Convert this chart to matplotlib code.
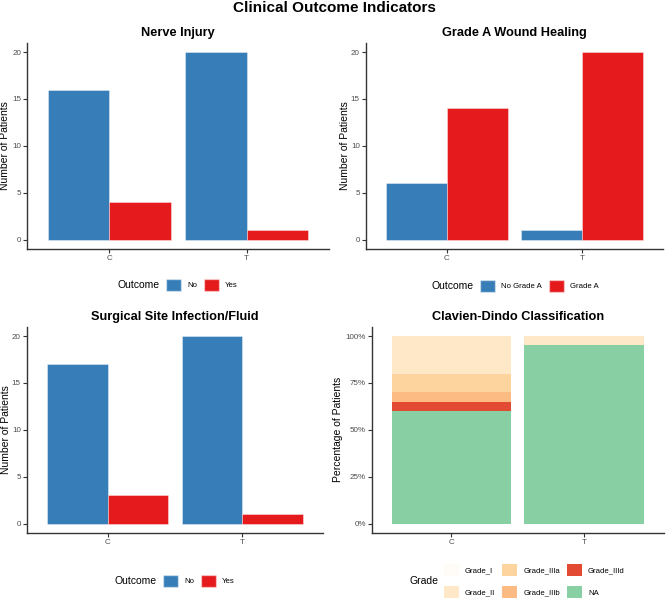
import matplotlib
matplotlib.use("Agg")
import matplotlib.pyplot as plt
from matplotlib.patches import Patch
import numpy as np

plt.rcParams['font.family'] = ['Liberation Sans', 'DejaVu Sans']

# ---------------- data ----------------
groups = ["C", "T"]

nerve_labels = ["No", "Yes"]
nerve_no = [16, 20]
nerve_yes = [4, 1]

wound_labels = ["No Grade A", "Grade A"]
wound_no = [6, 1]
wound_yes = [14, 20]

ssi_labels = ["No", "Yes"]
ssi_no = [17, 20]
ssi_yes = [3, 1]

grade_levels = ["Grade_I", "Grade_II", "Grade_IIIa", "Grade_IIIb", "Grade_IIId", "NA"]
grade_C = [0, 4, 2, 1, 1, 12]
grade_T = [0, 1, 0, 0, 0, 19]
grade_colors = ["#FFFCF7", "#FEE8C8", "#FDD49E", "#FDBB84", "#E34A33", "#88D0A4"]

BLUE = "#377EB8"
RED = "#E41A1C"
W, H = 669, 600


def fx(px):
    return px / W


def fy(py):
    return 1 - py / H


fig = plt.figure(figsize=(6.69, 6.0), dpi=100)

fig.text(fx(334), fy(8.5), "Clinical Outcome Indicators", ha="center", va="center",
         fontsize=11, fontweight="bold")


def style_axes(ax):
    for s in ["top", "right"]:
        ax.spines[s].set_visible(False)
    for s in ["left", "bottom"]:
        ax.spines[s].set_color("#333333")
        ax.spines[s].set_linewidth(1.0)
    ax.tick_params(axis="both", colors="#333333", length=2.7, width=0.8,
                   labelsize=5.8, labelcolor="#4D4D4D", pad=1.5)
    ax.set_xlim(0.4, 2.6)


def add_axes(l, r, t, b):
    return fig.add_axes([fx(l), fy(b), fx(r) - fx(l), fy(t) - fy(b)])


def dodge_panel(ax, a, b, title, lab_x):
    x = np.arange(1, len(groups) + 1)
    w = 0.45
    ax.bar(x - w / 2, a, width=w, color=BLUE, edgecolor=(1, 1, 1, 0.45), linewidth=0.6)
    ax.bar(x + w / 2, b, width=w, color=RED, edgecolor=(1, 1, 1, 0.45), linewidth=0.6)
    style_axes(ax)
    ax.set_ylim(-1, 21)
    ax.set_yticks([0, 5, 10, 15, 20])
    ax.set_xticks(x)
    ax.set_xticklabels(groups)
    ax.set_ylabel("Number of Patients", fontsize=7.5)
    ax.yaxis.set_label_coords(lab_x, 0.5)
    ax.set_title(title, fontsize=9.2, fontweight="bold", pad=5)


def outcome_legend(title_right, key_left, yc, labels):
    fig.text(fx(title_right), fy(yc), "Outcome", ha="right", va="center", fontsize=7.5)
    handles = [Patch(facecolor=BLUE, edgecolor=(1, 1, 1, 0.45)),
               Patch(facecolor=RED, edgecolor=(1, 1, 1, 0.45))]
    fig.legend(handles, labels, loc="center left", bbox_to_anchor=(fx(key_left), fy(yc)),
               ncol=2, frameon=False, fontsize=5.6, handlelength=1.9, handleheight=1.9,
               handletextpad=0.8, columnspacing=0.9, borderpad=0, borderaxespad=0)


# Panel 1
ax1 = add_axes(27, 329, 42.7, 249)
dodge_panel(ax1, nerve_no, nerve_yes, "Nerve Injury", -0.055)
outcome_legend(160, 166, 285, nerve_labels)

# Panel 2
ax2 = add_axes(365.7, 663, 42.7, 249)
dodge_panel(ax2, wound_no, wound_yes, "Grade A Wound Healing", -0.053)
outcome_legend(474, 480, 286, wound_labels)

# Panel 3
ax3 = add_axes(26.7, 323, 326.7, 533)
dodge_panel(ax3, ssi_no, ssi_yes, "Surgical Site Infection/Fluid", -0.052)
outcome_legend(157, 163, 581, ssi_labels)

# Panel 4: stacked percentage
ax4 = add_axes(371.7, 664, 326.7, 533)
counts = np.array([grade_C, grade_T], dtype=float)
pct = counts / counts.sum(axis=1, keepdims=True)
x = np.arange(1, len(groups) + 1)
bottom = np.zeros(len(groups))
order = list(range(len(grade_levels)))[::-1]  # NA at bottom
for i in order:
    ax4.bar(x, pct[:, i], width=0.9, bottom=bottom, color=grade_colors[i],
            edgecolor="none", linewidth=0)
    bottom += pct[:, i]
style_axes(ax4)
ax4.set_ylim(-0.05, 1.05)
ax4.set_yticks([0, 0.25, 0.5, 0.75, 1.0])
ax4.set_yticklabels(["0%", "25%", "50%", "75%", "100%"])
ax4.set_xticks(x)
ax4.set_xticklabels(groups)
ax4.set_ylabel("Percentage of Patients", fontsize=7.5)
ax4.yaxis.set_label_coords(-0.097, 0.5)
ax4.set_title("Clavien-Dindo Classification", fontsize=9.2, fontweight="bold", pad=5)

fig.text(fx(438), fy(581), "Grade", ha="right", va="center", fontsize=7.5)
ghandles = [Patch(facecolor=c, edgecolor="none") for c in grade_colors]
fig.legend(ghandles, grade_levels, loc="center left", bbox_to_anchor=(fx(444), fy(581)),
           ncol=3, frameon=False, fontsize=5.6, handlelength=1.9, handleheight=1.9,
           handletextpad=0.8, columnspacing=0.9, labelspacing=1.4,
           borderpad=0, borderaxespad=0)

fig.savefig("out.png", dpi=100)
